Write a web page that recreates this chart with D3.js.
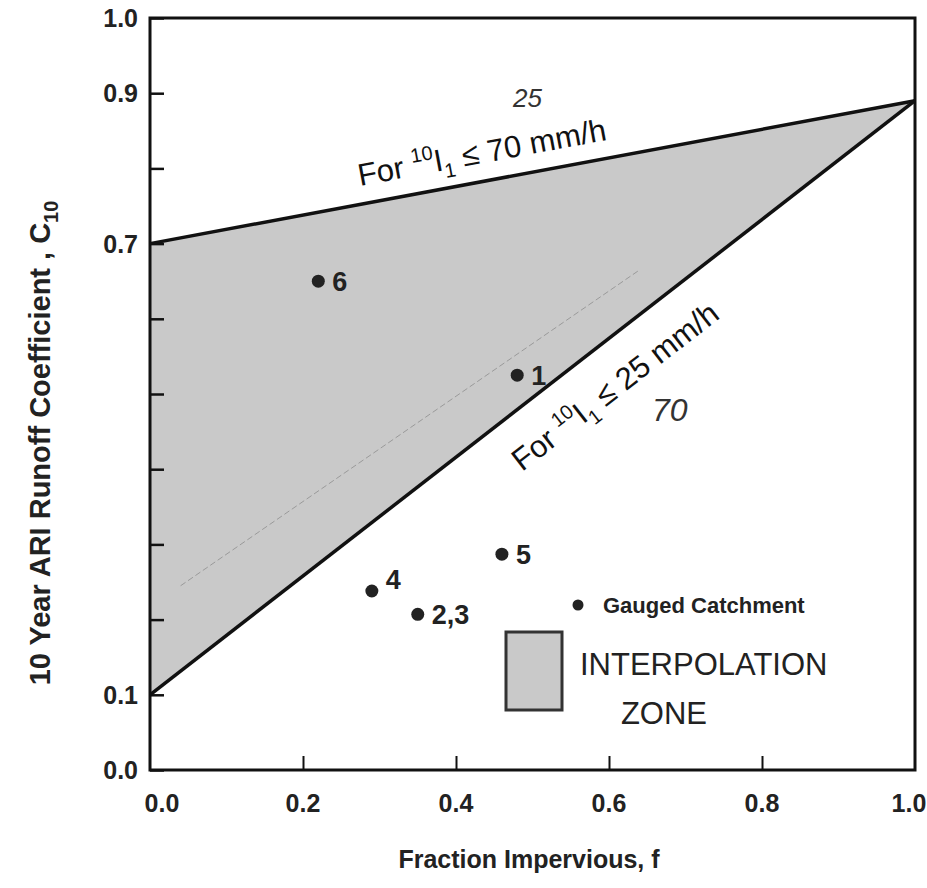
<!DOCTYPE html>
<html><head><meta charset="utf-8">
<script src="https://cdn.jsdelivr.net/npm/d3@7"></script>
<style>body{margin:0;background:#fff}svg{display:block}text{font-family:"Liberation Sans",Arial,sans-serif}</style>
</head><body><svg id="c" width="927" height="888"></svg>
<script>
// Data
const yTicks = [0,0.1,0.2,0.3,0.4,0.5,0.6,0.7,0.8,0.9,1.0];
const yTickLabels = {0:"0.0",0.1:"0.1",0.7:"0.7",0.9:"0.9",1:"1.0"};
const xTicks = [0,0.2,0.4,0.6,0.8,1.0];
const xTickLabels = ["0.0","0.2","0.4","0.6","0.8","1.0"];
const upperLine = [[0,0.7],[1,0.89]];
const lowerLine = [[0,0.1],[1,0.89]];
const pointNames = ["6","1","5","4","2,3"];
const pointX = [0.22,0.48,0.46,0.29,0.35];
const pointY = [0.65,0.525,0.287,0.238,0.207];
const penLine = [[0.04,0.245],[0.64,0.665]];

const svg = d3.select("#c");
const L=150,R=915,T=18,B=770;
const x = d3.scaleLinear().domain([0,1]).range([L,R]);
const y = d3.scaleLinear().domain([0,1]).range([B,T]);

// zone polygon
const zone = [upperLine[0], upperLine[1], lowerLine[0]];
svg.append("path").attr("d", d3.line().x(d=>x(d[0])).y(d=>y(d[1]))(zone)+"Z")
  .attr("fill","#c9c9c9").attr("stroke","none");
// faint pen line
svg.append("path").attr("d", d3.line().x(d=>x(d[0])).y(d=>y(d[1]))(penLine))
  .attr("stroke","#9a9a9a").attr("stroke-width",1).attr("stroke-dasharray","6,3").attr("fill","none");

// frame
svg.append("rect").attr("x",L).attr("y",T).attr("width",R-L).attr("height",B-T)
  .attr("fill","none").attr("stroke","#111").attr("stroke-width",3);

// axes ticks (inward)
const yAxis = d3.axisRight(y).tickValues(yTicks).tickSize(14).tickFormat("");
const gy = svg.append("g").attr("transform",`translate(${L},0)`).call(yAxis);
gy.select(".domain").remove();
gy.selectAll("line").attr("stroke","#111").attr("stroke-width",2.5);
const xAxis = d3.axisTop(x).tickValues(xTicks.slice(1,-1)).tickSize(14).tickFormat("");
const gx = svg.append("g").attr("transform",`translate(0,${B})`).call(xAxis);
gx.select(".domain").remove();
gx.selectAll("line").attr("stroke","#111").attr("stroke-width",2);

// y tick labels
svg.selectAll(".yl").data(yTicks.filter(v=>yTickLabels[v]!==undefined)).enter().append("text")
  .attr("x",L-12).attr("y",d=>y(d)+9).attr("text-anchor","end")
  .attr("font-size",25).attr("font-weight","bold").attr("fill","#222").text(d=>yTickLabels[d]);
// x tick labels
svg.selectAll(".xl").data(xTicks).enter().append("text")
  .attr("x",(d,i)=>x(d)+(i===0?12:(i===xTicks.length-1?-6:0))).attr("y",812).attr("text-anchor","middle")
  .attr("font-size",25).attr("font-weight","bold").attr("fill","#222").text((d,i)=>xTickLabels[i]);

// boundary lines
[upperLine, lowerLine].forEach(ln=>{
  svg.append("line").attr("x1",x(ln[0][0])).attr("y1",y(ln[0][1])).attr("x2",x(ln[1][0])).attr("y2",y(ln[1][1]))
    .attr("stroke","#111").attr("stroke-width",3.5);
});

// axis titles
svg.append("text").attr("x",529).attr("y",868).attr("text-anchor","middle")
  .attr("font-size",25).attr("font-weight","bold").attr("fill","#222").text("Fraction  Impervious, f");
const yt = svg.append("text").attr("transform","translate(50,443) rotate(-90)").attr("text-anchor","middle")
  .attr("font-size",29).attr("font-weight","bold").attr("fill","#222");
yt.append("tspan").text("10 Year ARI Runoff Coefficient , C");
yt.append("tspan").attr("font-size",20).attr("dy",8).text("10");

// line labels
function lineLabel(px,py,ang,val){
  const t = svg.append("text").attr("transform",`translate(${px},${py}) rotate(${ang})`)
    .attr("font-size",31).attr("fill","#111");
  t.append("tspan").text("For ");
  t.append("tspan").attr("font-size",20).attr("dy",-13).text("10");
  t.append("tspan").attr("dy",13).text("I");
  t.append("tspan").attr("font-size",20).attr("dy",8).text("1");
  t.append("tspan").attr("dy",-8).text(" \u2264 "+val+"  mm/h");
}
const angU = Math.atan2(y(upperLine[1][1])-y(upperLine[0][1]), x(1)-x(0))*180/Math.PI;
const angL = Math.atan2(y(lowerLine[1][1])-y(lowerLine[0][1]), x(1)-x(0))*180/Math.PI;
lineLabel(360,186,angU,"70");
lineLabel(522,472,angL,"25");
// handwritten notes
svg.append("text").attr("x",513).attr("y",107).attr("font-size",26).attr("fill","#333")
  .attr("font-family","DejaVu Sans").attr("font-style","italic").attr("font-weight","200").text("25");
svg.append("text").attr("x",652).attr("y",421).attr("font-size",32).attr("fill","#333")
  .attr("font-family","DejaVu Sans").attr("font-style","italic").attr("font-weight","200").text("70");

// points
pointNames.forEach((n,i)=>{
  svg.append("circle").attr("cx",x(pointX[i])).attr("cy",y(pointY[i])).attr("r",6.5).attr("fill","#222");
  svg.append("text").attr("x",x(pointX[i])+14).attr("y",y(pointY[i])+(n==="4"? -2 : 10))
    .attr("font-size",27).attr("font-weight","bold").attr("fill","#222").text(n);
});

// legend
svg.append("circle").attr("cx",578).attr("cy",605).attr("r",5.5).attr("fill","#222");
svg.append("text").attr("x",603).attr("y",613).attr("font-size",22).attr("fill","#222")
  .attr("font-weight","bold").text("Gauged Catchment");
svg.append("rect").attr("x",506).attr("y",632).attr("width",56).attr("height",78)
  .attr("fill","#c9c9c9").attr("stroke","#333").attr("stroke-width",3);
svg.append("text").attr("x",580).attr("y",675).attr("font-size",31).attr("fill","#222").text("INTERPOLATION");
svg.append("text").attr("x",664).attr("y",724).attr("text-anchor","middle").attr("font-size",31).attr("fill","#222").text("ZONE");
</script></body></html>
